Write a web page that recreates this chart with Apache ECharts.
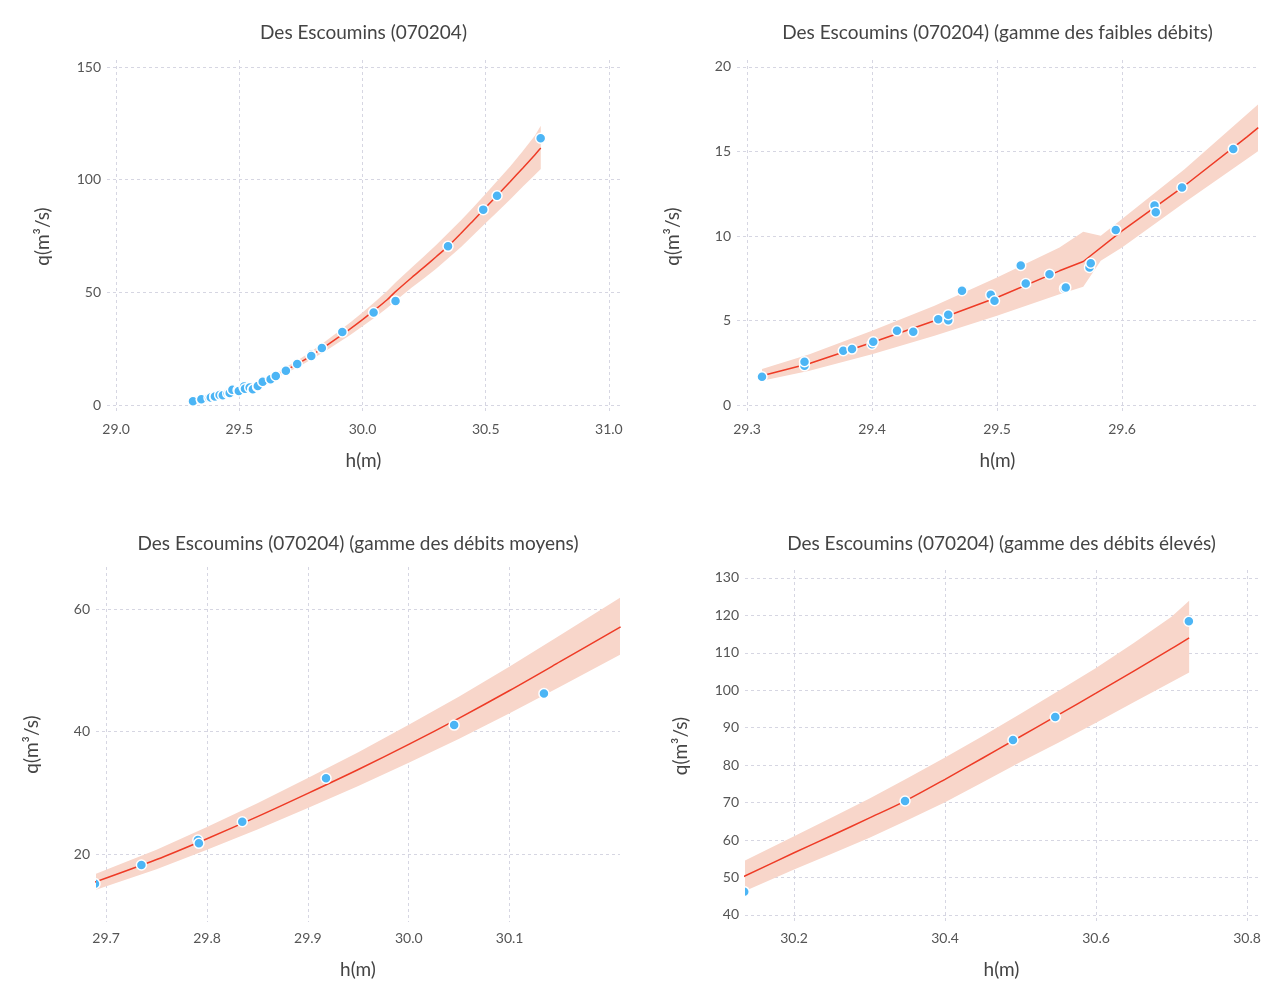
<!DOCTYPE html>
<html>
<head>
<meta charset="utf-8">
<title>Des Escoumins (070204)</title>
<script src="https://cdn.jsdelivr.net/npm/echarts@6/dist/echarts.min.js"></script>
<style>
  html, body { margin: 0; padding: 0; background: #fff; }
  #topline { position: absolute; left: 0; top: 13px; width: 1268px; height: 1px; background: #f1f1f3; }
  #chart { width: 1268px; height: 994px; }
</style>
</head>
<body>
<div id="topline"></div>
<div id="chart"></div>
<script>
// Jaugeages (h en m, q en m3/s)
const measurements = [
  [29.312, 1.67], [29.346, 2.33], [29.346, 2.56], [29.377, 3.21], [29.384, 3.31],
  [29.400, 3.60], [29.401, 3.74], [29.420, 4.39], [29.433, 4.33], [29.453, 5.08],
  [29.461, 5.02], [29.461, 5.34], [29.472, 6.76], [29.495, 6.52], [29.498, 6.17],
  [29.519, 8.26], [29.523, 7.19], [29.542, 7.74], [29.554, 6.90], [29.555, 6.96],
  [29.574, 8.14], [29.575, 8.39], [29.595, 10.36], [29.626, 11.80], [29.627, 11.41],
  [29.648, 12.87], [29.689, 15.15], [29.735, 18.20], [29.791, 22.28], [29.792, 21.74],
  [29.835, 25.26], [29.918, 32.37], [30.045, 41.05], [30.134, 46.20], [30.347, 70.40],
  [30.490, 86.70], [30.546, 92.86], [30.723, 118.40]
];

// Courbe de tarage, gamme des faibles débits [h, q]
const lowCurve = [
  [29.312, 1.73], [29.35, 2.46], [29.40, 3.70], [29.45, 4.99], [29.50, 6.36],
  [29.55, 7.94], [29.569, 8.49], [29.60, 10.30], [29.65, 12.97], [29.70, 15.86], [29.709, 16.41]
];
// Intervalle de confiance, faibles débits [h, borne inf, borne sup]
const lowBand = [
  [29.312, 1.44, 2.13], [29.35, 2.03, 3.00], [29.40, 3.01, 4.39], [29.45, 4.10, 5.87],
  [29.50, 5.28, 7.55], [29.55, 6.56, 9.32], [29.569, 7.00, 10.25], [29.583, 8.53, 10.01],
  [29.60, 9.32, 11.00], [29.65, 11.98, 13.95], [29.709, 15.03, 17.79]
];

// Gamme des débits moyens
const midCurve = [
  [29.687, 15.3], [29.75, 19.1], [29.80, 22.5], [29.85, 26.1], [29.90, 29.9], [29.95, 33.8],
  [30.00, 37.9], [30.05, 42.2], [30.10, 46.7], [30.15, 51.4], [30.21, 57.1]
];
const midBand = [
  [29.687, 14.0, 16.6], [29.75, 17.5, 20.7], [29.80, 20.7, 24.4], [29.85, 24.0, 28.3],
  [29.90, 27.5, 32.4], [29.95, 31.1, 36.6], [30.00, 34.9, 41.1], [30.05, 38.8, 45.7],
  [30.10, 43.0, 50.6], [30.15, 47.3, 55.7], [30.21, 52.6, 61.9]
];

// Gamme des débits élevés
const highCurve = [
  [30.133, 50.2], [30.20, 56.6], [30.25, 61.2], [30.30, 65.9], [30.347, 70.4], [30.40, 76.2],
  [30.45, 81.9], [30.49, 86.5], [30.55, 93.4], [30.60, 99.2], [30.65, 105.1], [30.70, 111.1], [30.7234, 114.0]
];
const highBand = [
  [30.133, 46.2, 54.3], [30.20, 52.1, 61.0], [30.25, 56.3, 66.0], [30.30, 60.6, 71.1],
  [30.35, 65.3, 76.5], [30.40, 70.1, 82.0], [30.45, 75.4, 87.8], [30.50, 80.8, 93.7],
  [30.55, 86.0, 99.8], [30.60, 91.3, 105.9], [30.65, 96.8, 112.6], [30.70, 102.2, 119.6],
  [30.7234, 104.7, 123.9]
];

// Graduations
const ticksX = [
  [29.0, 29.5, 30.0, 30.5, 31.0],
  [29.3, 29.4, 29.5, 29.6],
  [29.7, 29.8, 29.9, 30.0, 30.1],
  [30.2, 30.4, 30.6, 30.8]
];
const ticksY = [
  [0, 50, 100, 150],
  [0, 5, 10, 15, 20],
  [20, 40, 60],
  [40, 50, 60, 70, 80, 90, 100, 110, 120, 130]
];
const titles = [
  'Des Escoumins (070204)',
  'Des Escoumins (070204) (gamme des faibles débits)',
  'Des Escoumins (070204) (gamme des débits moyens)',
  'Des Escoumins (070204) (gamme des débits élevés)'
];

// Courbe complète: assemblage des trois gammes
const fullCurve = lowCurve.filter(p => p[0] < 29.687)
  .concat(midCurve.filter(p => p[0] < 30.133))
  .concat(highCurve);
const fullBand = lowBand.filter(p => p[0] < 29.687)
  .concat(midBand.filter(p => p[0] < 30.133))
  .concat(highBand);

const curves = [fullCurve, lowCurve, midCurve, highCurve];
const bands = [fullBand, lowBand, midBand, highBand];

// Panel placement (pixels) and axis extents
const panels = [
  { left: 107, top: 60, width: 513, height: 353, x: [28.963, 31.045], y: [-3.55, 153.1], smooth: 0.3, titleTop: 23 },
  { left: 737, top: 60, width: 521, height: 353, x: [29.292, 29.7088], y: [-0.47, 20.41], smooth: false, titleTop: 23 },
  { left: 96, top: 567, width: 524, height: 355, x: [29.690, 30.2094], y: [8.9, 66.86], smooth: 0.3, titleTop: 534 },
  { left: 745, top: 570, width: 513, height: 352, x: [30.135, 30.8146], y: [38.1, 132.1], smooth: 0.3, titleTop: 534 }
];

const FONT = 'Lato';
const BAND = '#f8d6ca';
const LINE = '#ee3b26';
const DOT = '#4cb5f5';
const GRID = '#d6d6e2';

const grid = [], xAxis = [], yAxis = [], title = [], series = [];

panels.forEach((p, i) => {
  grid.push({ left: p.left, top: p.top, width: p.width, height: p.height, containLabel: false });
  title.push({
    text: titles[i], left: p.left + p.width / 2, top: p.titleTop, textAlign: 'center', padding: 0,
    textStyle: { fontFamily: FONT, fontSize: 19, fontWeight: 'normal', color: '#444' }
  });
  xAxis.push({
    type: 'value', gridIndex: i, min: p.x[0], max: p.x[1],
    name: 'h(m)', nameLocation: 'middle', nameGap: 38,
    nameTextStyle: { fontFamily: FONT, fontSize: 19, color: '#444' },
    axisLine: { show: false },
    axisTick: { show: false, customValues: ticksX[i] },
    axisLabel: { customValues: ticksX[i], formatter: v => v.toFixed(1), margin: 9,
      fontFamily: FONT, fontSize: 14, color: '#555' },
    splitLine: { show: true, lineStyle: { color: GRID, type: [3, 3], width: 1 } }
  });
  yAxis.push({
    type: 'value', gridIndex: i, min: p.y[0], max: p.y[1],
    name: 'q(m³/s)', nameLocation: 'middle', nameGap: 55, nameRotate: 90,
    nameTextStyle: { fontFamily: FONT, fontSize: 19, color: '#444' },
    axisLine: { show: false },
    axisTick: { show: false, customValues: ticksY[i] },
    axisLabel: { customValues: ticksY[i], formatter: v => String(Math.round(v)), margin: 6,
      fontFamily: FONT, fontSize: 14, color: '#555' },
    splitLine: { show: true, lineStyle: { color: GRID, type: [3, 3], width: 1 } }
  });

  // Confidence band: one polygon through the upper bounds then back along the lower bounds
  const band = bands[i];
  series.push({
    type: 'custom', xAxisIndex: i, yAxisIndex: i, silent: true, clip: true, z: 1,
    data: band,
    encode: { x: 0, y: [1, 2] },
    renderItem: function (params, api) {
      if (params.dataIndex !== 0) return null;
      const upper = band.map(b => api.coord([b[0], b[2]]));
      const lower = band.map(b => api.coord([b[0], b[1]])).reverse();
      return {
        type: 'polygon',
        shape: { points: upper.concat(lower) },
        style: { fill: BAND, stroke: null }
      };
    }
  });
  series.push({
    type: 'line', xAxisIndex: i, yAxisIndex: i, symbol: 'none', smooth: p.smooth, z: 2,
    lineStyle: { color: LINE, width: 1.5 },
    data: curves[i]
  });
  // Gaugings as circles, clipped to the plot area so edge points are cut like the band
  series.push({
    type: 'custom', xAxisIndex: i, yAxisIndex: i, clip: true, z: 3,
    data: measurements,
    encode: { x: 0, y: 1 },
    renderItem: function (params, api) {
      const c = api.coord([api.value(0), api.value(1)]);
      return {
        type: 'circle',
        shape: { cx: c[0], cy: c[1], r: 5 },
        style: { fill: DOT, stroke: '#fff', lineWidth: 1.5 }
      };
    }
  });
});

const chart = echarts.init(document.getElementById('chart'), null, { renderer: 'canvas' });
chart.setOption({ animation: false, backgroundColor: '#fff', title, grid, xAxis, yAxis, series });
</script>
</body>
</html>
